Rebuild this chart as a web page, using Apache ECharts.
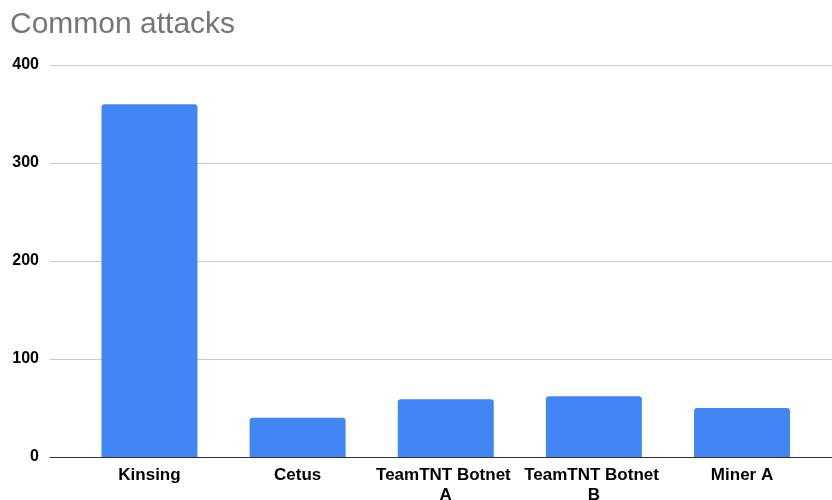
<!DOCTYPE html>
<html>
<head>
<meta charset="utf-8">
<script src="https://cdn.jsdelivr.net/npm/echarts@6/dist/echarts.min.js"></script>
<style>html,body{margin:0;padding:0;background:#fff}#c{width:832px;height:500px}</style>
</head>
<body>
<div id="c"></div>
<script>
var titleText = 'Common attacks';
var categories = ['Kinsing', 'Cetus', 'TeamTNT Botnet A', 'TeamTNT Botnet B', 'Miner A'];
var attacks = [360, 40, 59, 62, 50];
var yTicks = {min: 0, max: 400, interval: 100};

var chart = echarts.init(document.getElementById('c'), null, {renderer: 'canvas'});
var font = '"Liberation Sans", Arial, Helvetica, sans-serif';
chart.setOption({
  animation: false,
  backgroundColor: '#fff',
  title: {
    text: titleText, left: 10, top: 10, padding: 0,
    textStyle: {fontFamily: font, fontSize: 30, fontWeight: 'normal', color: '#757575'}
  },
  grid: [
    {left: 50, right: 0, top: 65, bottom: 43, containLabel: false, outerBoundsMode: 'none'},
    {left: 75.4, right: 15.9, top: 65, bottom: 43, containLabel: false, outerBoundsMode: 'none'}
  ],
  xAxis: [
    {gridIndex: 0, type: 'category', data: [''], axisTick: {show: false}, axisLabel: {show: false},
     axisLine: {lineStyle: {color: '#333', width: 1}}},
    {gridIndex: 1, type: 'category', data: categories, axisTick: {show: false}, axisLine: {show: false},
     axisLabel: {interval: 0, margin: 8, fontFamily: font, fontSize: 17, fontWeight: 'bold', color: '#000',
       width: 146, overflow: 'break', lineHeight: 20}}
  ],
  yAxis: [
    {gridIndex: 0, type: 'value', min: yTicks.min, max: yTicks.max, interval: yTicks.interval,
     axisLine: {show: false}, axisTick: {show: false},
     axisLabel: {margin: 11, fontFamily: font, fontSize: 16, fontWeight: 'bold', color: '#000'},
     splitLine: {lineStyle: {color: '#cccccc', width: 1}}},
    {gridIndex: 1, type: 'value', min: yTicks.min, max: yTicks.max, interval: yTicks.interval, show: false,
     splitLine: {show: false}}
  ],
  series: [{
    type: 'bar', xAxisIndex: 1, yAxisIndex: 1, data: attacks, barWidth: 96,
    itemStyle: {color: '#4285f4', borderRadius: [3, 3, 0, 0]}
  }]
});
</script>
</body>
</html>
